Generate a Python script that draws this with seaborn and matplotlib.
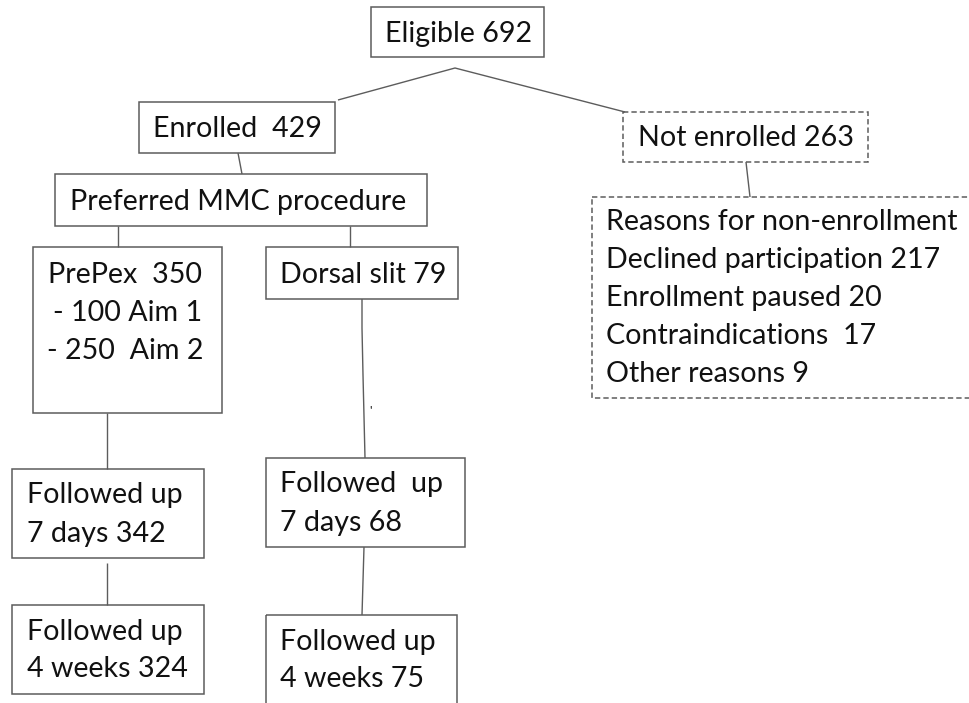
import numpy as np
import pandas as pd
import seaborn as sns
from matplotlib import pyplot as plt
from matplotlib.patches import Rectangle

# flow counts
eligible = 692
enrolled = 429
not_enrolled = 263
prepex = 350
prepex_aims = [100, 250]
dorsal = 79
reasons = ["Declined participation", "Enrollment paused", "Contraindications ", "Other reasons"]
reason_counts = [217, 20, 17, 9]
followup_7d = [342, 68]
followup_4w = [324, 75]

sns.set_theme(style="white")
plt.rcParams['font.family'] = ['Lato', 'DejaVu Sans']

TXT = "#111111"
EDGE = "#5c5c5c"
FS = 20.6

fig = plt.figure(figsize=(9.7, 7.03), dpi=100)
ax = fig.add_axes([0, 0, 1, 1])
ax.set_xlim(0, 970)
ax.set_ylim(703, 0)
ax.axis("off")


def box(x0, y0, x1, y1, dashed=False):
    ls = (0, (3.5, 2)) if dashed else "-"
    ax.add_patch(Rectangle((x0, y0), x1 - x0, y1 - y0, fill=False,
                           ec=EDGE, lw=1.1, ls=ls, clip_on=False))


def txt(x, y, s):
    ax.text(x, y, s, fontsize=FS, color=TXT, ha="left", va="baseline")


def line(xs, ys):
    ax.plot(xs, ys, color=EDGE, lw=1.0, solid_capstyle="butt")


# top
box(371, 7, 544, 57)
txt(385, 42, f"Eligible {eligible}")
line([338, 455, 625], [100, 68, 112])

# enrolled branch
box(139, 102, 335, 153)
txt(153, 137, f"Enrolled  {enrolled}")
line([238, 242], [153, 174])

box(55, 174, 427, 226)
txt(70, 210, "Preferred MMC procedure")
line([118, 118], [226, 247])
line([350, 350], [226, 247])

box(33, 247, 222, 413)
txt(48, 283, f"PrePex  {prepex}")
txt(53, 321, f"- {prepex_aims[0]} Aim 1")
txt(47, 359, f"- {prepex_aims[1]}  Aim 2")

box(266, 247, 458, 299)
txt(280, 283, f"Dorsal slit {dorsal}")
line([362, 362, 363, 365], [299, 328, 375, 458])
ax.text(371, 416, "'", fontsize=9, color=TXT, ha="center", va="baseline")

# follow-up, PrePex side
line([107, 107], [413, 469])
box(12, 469, 204, 558)
txt(27, 503, "Followed up")
txt(27, 542, f"7 days {followup_7d[0]}")
line([107, 107], [563, 605])
box(12, 605, 204, 694)
txt(27, 640, "Followed up")
txt(27, 677, f"4 weeks {followup_4w[0]}")

# follow-up, dorsal slit side
box(266, 458, 465, 547)
txt(280, 492, "Followed  up")
txt(280, 531, f"7 days {followup_7d[1]}")
line([364, 362], [547, 615])
box(266, 615, 457, 720)
txt(280, 650, "Followed up")
txt(280, 687, f"4 weeks {followup_4w[1]}")

# not enrolled branch
box(623, 112, 868, 162, dashed=True)
txt(638, 146, f"Not enrolled {not_enrolled}")
line([746, 750], [162, 197])
box(592, 197, 990, 398, dashed=True)
txt(606, 230, "Reasons for non-enrollment")
for i, (r, c) in enumerate(zip(reasons, reason_counts)):
    txt(606, 268 + 38 * i, f"{r} {c}")

fig.savefig("out.png", dpi=100)
